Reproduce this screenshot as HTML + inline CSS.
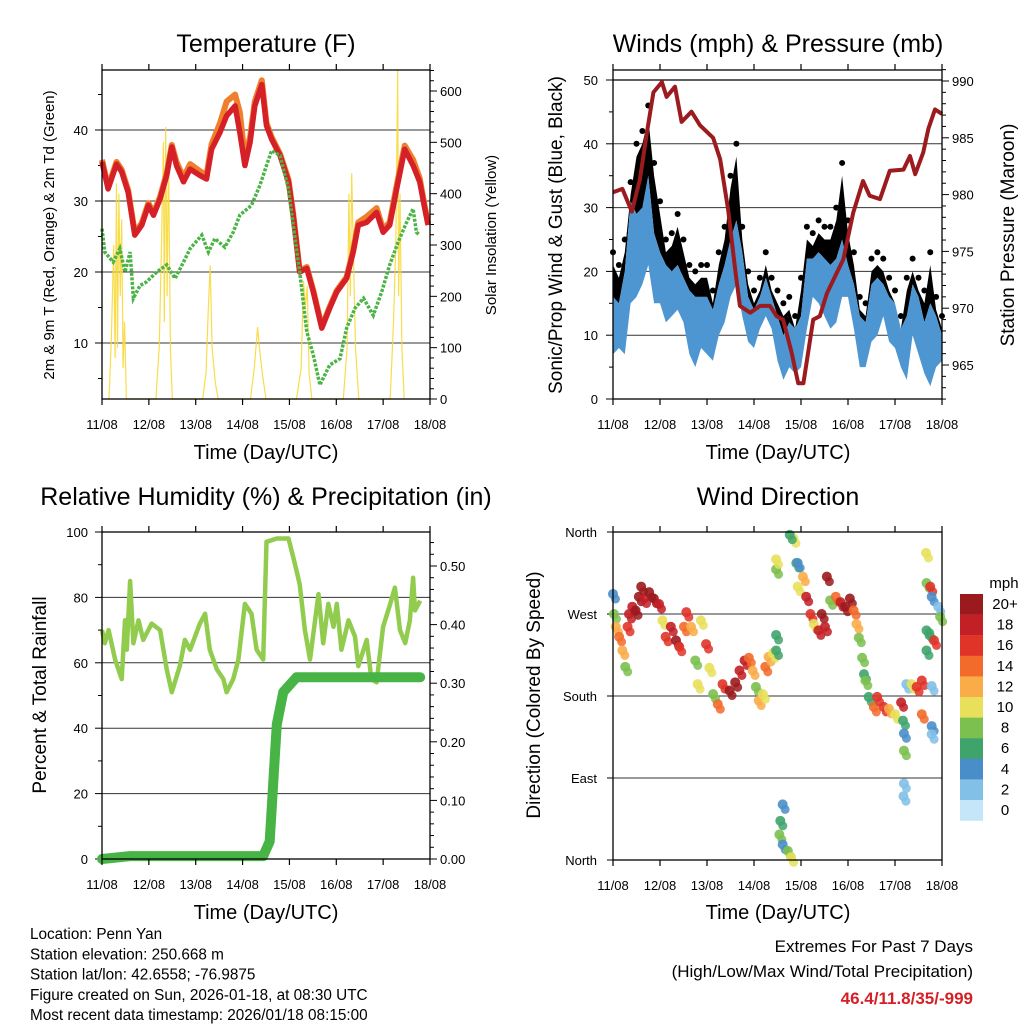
<!DOCTYPE html>
<html><head><meta charset="utf-8"><style>
body{margin:0;background:#fff}
svg{display:block;font-family:"Liberation Sans",sans-serif}
</style></head><body>
<svg id="s" width="1024" height="1024" viewBox="0 0 1024 1024" xmlns="http://www.w3.org/2000/svg">
<rect width="1024" height="1024" fill="#fff"/>
</svg>
<script>
// ---------- DATA ----------
const dayLabels = ["11/08","12/08","13/08","14/08","15/08","16/08","17/08","18/08"];
// Temperature (F)
const tempT = [0,0.13,0.31,0.42,0.56,0.70,0.85,0.99,1.10,1.24,1.38,1.49,1.59,1.74,1.88,2.09,2.23,2.34,2.52,2.66,2.84,2.94,3.05,3.16,3.26,3.41,3.51,3.62,3.80,3.98,4.08,4.22,4.37,4.51,4.69,4.86,5.01,5.22,5.36,5.47,5.65,5.86,6.00,6.14,6.29,6.46,6.64,6.78,6.89,6.96];
const temp2m = [35.5,31.7,35.2,34.1,31.2,25.2,26.6,29.4,28.0,30.3,33.6,37.6,35.0,32.7,34.5,33.6,33.1,37.3,39.7,42.0,43.4,39.7,35.0,38.3,43.4,46.4,40.6,38.7,36.4,32.7,28.0,20.0,20.5,17.2,12.1,14.9,17.2,19.1,22.8,26.6,27.0,28.4,25.6,26.6,31.7,37.3,35.0,32.7,28.9,26.6];
const temp9m = [35.8,32.0,35.5,34.4,31.5,25.5,26.9,29.7,28.3,30.6,33.9,37.9,35.5,33.3,35.2,34.2,33.6,38.0,41.0,44.0,45.0,42.5,36.0,39.0,44.0,47.0,41.0,39.0,36.6,33.0,28.2,20.2,20.7,17.4,12.3,15.1,17.4,19.3,23.0,27.0,27.8,29.0,26.0,27.0,32.2,37.8,35.8,33.2,29.2,26.8];
const dewT = [0,0.06,0.24,0.38,0.49,0.60,0.67,0.81,0.95,1.17,1.38,1.56,1.74,1.88,2.13,2.27,2.41,2.62,2.80,2.94,3.19,3.37,3.51,3.62,3.80,3.98,4.08,4.22,4.37,4.51,4.65,4.86,5.08,5.22,5.40,5.58,5.79,5.97,6.14,6.32,6.50,6.64,6.71,6.78];
const dew2m = [26.1,22.8,21.4,23.3,20.0,22.8,16.3,18.1,18.6,20.0,21.0,19.1,21.4,23.3,25.2,22.8,24.7,23.5,25.6,28.0,29.4,32.2,35.0,37.1,36.4,31.7,26.6,20.0,11.6,8.3,4.1,6.9,7.8,12.1,14.9,16.3,13.9,17.2,21.0,24.2,27.0,28.9,25.6,25.2];
const solarT = [0.15,0.2,0.25,0.28,0.31,0.33,0.36,0.39,0.42,0.45,0.48,0.52, 1.15,1.22,1.27,1.31,1.33,1.36,1.39,1.42,1.46,1.5, 2.15,2.22,2.27,2.31,2.35,2.42,2.48, 3.17,3.25,3.32,3.36,3.42,3.5, 4.15,4.25,4.3,4.34,4.38,4.42,4.48, 5.15,5.23,5.27,5.3,5.33,5.36,5.41,5.48, 6.15,6.22,6.27,6.31,6.33,6.36,6.4,6.45];
const solarV = [0,120,300,80,420,100,400,200,350,60,150,0, 0,100,300,500,150,530,200,480,100,0, 0,50,180,260,100,30,0, 0,60,140,100,50,0, 0,60,230,180,220,50,0, 0,100,400,200,440,300,100,0, 0,150,300,640,200,400,100,0];
// Winds (mph) & pressure (mb), 3-hourly
const windT = [0,0.125,0.25,0.375,0.5,0.625,0.75,0.875,1,1.125,1.25,1.375,1.5,1.625,1.75,1.875,2,2.125,2.25,2.375,2.5,2.625,2.75,2.875,3,3.125,3.25,3.375,3.5,3.625,3.75,3.875,4,4.125,4.25,4.375,4.5,4.625,4.75,4.875,5,5.125,5.25,5.375,5.5,5.625,5.75,5.875,6,6.125,6.25,6.375,6.5,6.625,6.75,6.875,7];
const windLo = [7,8,7,15,16,18,21,15,15,12,13,14,12,7,5,8,7,6,10,12,16,18,13,9,8,11,13,11,6,3,5,4,5,11,16,15,13,11,12,16,16,11,5,5,9,10,13,9,8,5,3,10,7,4,2,5,6];
const windHi = [16,15,20,31,29,30,35,26,23,21,20,21,19,17,16,16,16,14,18,21,25,28,23,16,14,16,19,16,13,10,12,11,13,22,22,23,22,21,22,25,21,18,13,12,18,19,18,16,15,11,13,18,16,12,15,13,10];
const gust = [23,21,25,34,40,42,46,37,31,25,26,29,25,21,20,21,21,17,23,27,35,40,27,20,17,19,23,19,17,15,16,13,19,27,26,28,27,27,30,37,28,23,16,15,22,23,22,19,17,13,19,22,19,17,23,16,13];
const presT = [0,0.2,0.4,0.57,0.72,0.86,1.04,1.14,1.32,1.46,1.67,1.85,2.13,2.28,2.45,2.6,2.7,2.92,3.13,3.34,3.48,3.62,3.8,3.94,4.05,4.16,4.26,4.4,4.55,4.76,4.9,5.11,5.32,5.46,5.68,5.89,6.18,6.32,6.43,6.6,6.71,6.85,7.0];
const presV = [980.2,980.5,978.5,981.3,985.4,989.0,989.9,988.6,989.5,986.4,987.3,986.1,985.0,983.1,978.7,973.4,970.2,969.6,970.2,970.2,969.3,969.0,966.1,963.4,963.4,966.3,969.0,969.3,971.3,973.1,974.3,978.4,981.2,979.9,979.6,982.1,982.2,983.4,981.8,983.7,985.8,987.5,987.1];
// RH (%) & precipitation (in)
const rhT = [0,0.06,0.14,0.28,0.42,0.49,0.53,0.6,0.67,0.78,0.88,1.06,1.24,1.38,1.49,1.66,1.77,1.88,2.09,2.2,2.3,2.45,2.59,2.66,2.8,2.91,3.05,3.19,3.3,3.44,3.51,3.73,3.98,4.12,4.22,4.33,4.44,4.62,4.72,4.83,4.94,5.01,5.11,5.26,5.4,5.47,5.65,5.75,5.86,6.0,6.15,6.25,6.36,6.47,6.57,6.64,6.68,6.79];
const rhV = [70,66,70,61,55,73,64,85,66,73,67,72,70,58,51,59,67,64,72,75,64,58,55,51,55,61,78,75,64,61,97,98,98,90,84,70,61,81,66,78,71,78,64,73,68,59,67,55,54,71,78,83,70,66,73,86,76,79];
const prT = [0,0.6,3.44,3.58,3.73,3.87,4.15,6.79];
const prV = [0,0.005,0.005,0.03,0.23,0.285,0.31,0.31];
// Wind direction (deg) colored by speed (mph)
const dirT = [0,0.02,0.06,0.13,0.2,0.26,0.31,0.34,0.41,0.48,0.55,0.6,0.66,0.77,0.87,0.98,1.05,1.12,1.23,1.34,1.41,1.51,1.56,1.66,1.75,1.8,1.87,1.98,2.05,2.13,2.23,2.33,2.48,2.6,2.69,2.8,2.89,2.97,3.04,3.1,3.19,3.24,3.31,3.4,3.47,3.47,3.47,3.47,3.61,3.56,3.54,3.61,3.72,3.79,3.84,3.76,3.9,3.93,3.93,4.04,4.11,4.2,4.27,4.37,4.44,4.51,4.55,4.62,4.74,4.84,4.94,5.04,5.12,5.18,5.23,5.3,5.34,5.37,5.44,5.55,5.62,5.76,5.87,6.0,6.13,6.17,6.19,6.19,6.19,6.18,6.24,6.35,6.46,6.57,6.57,6.66,6.67,6.67,6.73,6.75,6.78,6.83,6.78,6.78,6.78,6.92,6.96,6.67];
const dirV = [292,270,256,245,230,212,256,270,278,274,289,300,287,294,287,281,263,245,256,241,234,256,272,256,219,193,263,237,211,182,171,193,186,195,208,219,222,208,190,175,182,212,223,227,230,247,319,330,61,43,28,17,10,3,353,357,326,300,326,311,289,270,259,252,270,256,311,285,289,283,278,287,274,259,244,222,204,197,179,168,179,168,166,160,173,153,139,120,84,70,193,193,190,197,160,337,304,252,249,300,289,241,147,138,191,278,267,230];
const dirS = [5,8,12,14,12,8,16,18,18,20,20,20,18,20,20,18,10,16,18,20,16,14,16,12,8,10,10,16,10,8,14,16,20,20,18,18,14,12,8,12,10,14,12,10,6,6,8,10,4,6,8,4,8,10,10,6,6,10,4,12,18,16,10,18,20,18,20,8,14,18,20,20,14,12,8,8,6,8,6,14,16,16,12,10,18,6,4,8,2,2,2,10,16,16,14,10,8,6,6,16,4,16,4,2,2,2,8,6,4];
const barLabels = ["20+","18","16","14","12","10","8","6","4","2","0"];
const barColors = ["#9b1a1d","#c21f26","#e03429","#f26b2a","#f9ac48","#e8e05a","#7cc04f","#3fa46c","#4a8ec9","#82c0e8","#c4e6f8"];

// ---------- HELPERS ----------
const NS="http://www.w3.org/2000/svg";
const svg=document.getElementById('s');
function mk(tag,attrs,parent){const e=document.createElementNS(NS,tag);for(const k in attrs)e.setAttribute(k,attrs[k]);(parent||svg).appendChild(e);return e;}
function txt(str,x,y,size,anchor,parent,extra){const e=mk('text',Object.assign({x:x,y:y,'font-size':size,'text-anchor':anchor||'middle',fill:'#000'},extra||{}),parent);e.textContent=str;return e;}
function lin(a,b,c,d){return (v)=>c+(v-a)*(d-c)/(b-a);}
function pathOf(ts,vs,X,Y){return ts.map((t,i)=>(i?'L':'M')+X(t).toFixed(1)+','+Y(vs[i]).toFixed(1)).join('');}

function frame(g,x0,y0,x1,y1,name){
  const r=mk('rect',{x:x0,y:y0,width:x1-x0,height:y1-y0,fill:'none',stroke:'#000','stroke-width':1.3},g);
  
  
}
function xAxis(g,x0,x1,y0,y1,X){
  dayLabels.forEach((l,i)=>{
    const x=X(i);
    mk('line',{x1:x,x2:x,y1:y1,y2:y1+6,stroke:'#000','stroke-width':1.2},g);
    mk('line',{x1:x,x2:x,y1:y0,y2:y0-6,stroke:'#000','stroke-width':1.2},g);
    const t=txt(l,x,y1+30,13,'middle',g);
    
    
  });
}
function yTicks(g,side,x,lo,hi,major,minor,Y,fmt,lblX,grid,gx0,gx1){
  const dir=side==='left'?-1:1;
  for(let v=Math.ceil(lo/minor)*minor;v<=hi+1e-9;v+=minor){
    const y=Y(v);const isMaj=Math.abs(v/major-Math.round(v/major))<1e-6;
    mk('line',{x1:x,x2:x+dir*(isMaj?7:4),y1:y,y2:y,stroke:'#000','stroke-width':1},g);
    if(isMaj){
      if(grid&&y>Y(hi)+1&&y<Y(lo)-1) mk('line',{x1:gx0,x2:gx1,y1:y,y2:y,stroke:'#333','stroke-width':1},g);
      if(fmt){const t=txt(fmt(v),lblX,y+5,13,side==='left'?'end':'start',g);
        
        }
    }
  }
}
function title(str,x,y,name){const t=txt(str,x,y,25,'middle');}
function vtitle(str,x,y,size,name){const t=txt(str,x,y,size,'middle',null,{transform:'rotate(-90 '+x+' '+y+')'});}

// ---------- PANEL 1: Temperature ----------
(function(){
  const x0=102,x1=430,y0=70,y1=399;
  const g=mk('g',{});
  
  
  const X=lin(0,7,x0,x1), Y=lin(10,40,343,130), YS=lin(0,600,399,91);
  yTicks(g,'left',x0,2.1,48.4,10,5,Y,v=>v>=10?String(v):null,88,true,x0,x1);
  yTicks(g,'right',x1,0,641,100,20,YS,v=>String(v),440,false);
  const sol=mk('path',{d:pathOf(solarT,solarV,X,YS),fill:'none',stroke:'#f8d838','stroke-width':1.2,'stroke-opacity':0.9},g);
  
  
  const o=mk('path',{d:pathOf(tempT,temp9m,X,Y),fill:'none',stroke:'#f07f2c','stroke-width':6,'stroke-linejoin':'round'},g);
  
  
  const r=mk('path',{d:pathOf(tempT,temp2m,X,Y),fill:'none',stroke:'#d42026','stroke-width':5.5,'stroke-linejoin':'round'},g);
  
  
  const dp=mk('path',{d:pathOf(dewT,dew2m,X,Y),fill:'none',stroke:'#4bb446','stroke-width':3.5,'stroke-dasharray':'3 1.5'},g);
  
  
  frame(g,x0,y0,x1,y1,'temperature');
  xAxis(g,x0,x1,y0,y1,X);
  title('Temperature (F)',266,52,'temperature-title');
  vtitle('2m & 9m T (Red, Orange) & 2m Td (Green)',54,235,15,'temperature-y-title');
  vtitle('Solar Insolation (Yellow)',496,235,15,'solar-y-title');
  const xt=txt('Time (Day/UTC)',266,459,20,'middle');
})();

// ---------- PANEL 2: Winds & Pressure ----------
(function(){
  const x0=613,x1=942,y0=70,y1=399;
  const g=mk('g',{});
  
  
  const X=lin(0,7,x0,x1), Y=lin(0,50,399,80), YP=lin(965,990,365,81);
  yTicks(g,'left',x0,0,51.6,10,5,Y,v=>String(v),598,true,x0,x1);
  mk('line',{x1:x0,x2:x1,y1:Y(50),y2:Y(50),stroke:'#000','stroke-width':1.2},g);
  yTicks(g,'right',x1,962,991,5,1,YP,v=>String(v),952,false);
  let gp='M'+windT.map((t,i)=>X(t).toFixed(1)+','+Y(windHi[i]).toFixed(1)).join('L');
  for(let i=windT.length-1;i>=0;i--) gp+='L'+X(windT[i]).toFixed(1)+','+Y(gust[i]-2).toFixed(1);
  const gc=mk('path',{d:gp+'Z',fill:'#000'},g);
  
  
  windT.forEach((t,i)=>{
    const c=mk('circle',{cx:X(t),cy:Y(gust[i]),r:3,fill:'#000'},g);
    
    
  });
  let bp='M'+windT.map((t,i)=>X(t).toFixed(1)+','+Y(windHi[i]).toFixed(1)).join('L');
  for(let i=windT.length-1;i>=0;i--) bp+='L'+X(windT[i]).toFixed(1)+','+Y(windLo[i]).toFixed(1);
  const bb=mk('path',{d:bp+'Z',fill:'#4e96d2'},g);
  
  
  const p=mk('path',{d:pathOf(presT,presV,X,YP),fill:'none',stroke:'#9b1b1e','stroke-width':4,'stroke-linejoin':'round'},g);
  
  
  frame(g,x0,y0,x1,y1,'winds');
  xAxis(g,x0,x1,y0,y1,X);
  title('Winds (mph) & Pressure (mb)',778,52,'winds-title');
  vtitle('Sonic/Prop Wind & Gust (Blue, Black)',562,235,19,'wind-y-title');
  vtitle('Station Pressure (Maroon)',1014,235,19,'pressure-y-title');
  const xt=txt('Time (Day/UTC)',778,459,20,'middle');
})();

// ---------- PANEL 3: RH & Precip ----------
(function(){
  const x0=102,x1=430,y0=532,y1=859;
  const g=mk('g',{});
  
  
  const X=lin(0,7,x0,x1), Y=lin(0,100,859,532), YP=lin(0,0.5,859,566);
  yTicks(g,'left',x0,0,100,20,10,Y,v=>String(v),88,true,x0,x1);
  yTicks(g,'right',x1,0,0.558,0.1,0.02,YP,v=>v.toFixed(2),440,false);
  const rh=mk('path',{d:pathOf(rhT,rhV,X,Y),fill:'none',stroke:'#92cc4e','stroke-width':4.5,'stroke-linejoin':'round'},g);
  
  
  const pr=mk('path',{d:pathOf(prT,prV,X,YP),fill:'none',stroke:'#48b446','stroke-width':10,'stroke-linejoin':'round','stroke-linecap':'round'},g);
  
  
  frame(g,x0,y0,x1,y1,'humidity');
  xAxis(g,x0,x1,y0,y1,X);
  title('Relative Humidity (%) & Precipitation (in)',266,505,'humidity-title');
  vtitle('Percent & Total Rainfall',46,695,19,'humidity-y-title');
  const xt=txt('Time (Day/UTC)',266,919,20,'middle');
})();

// ---------- PANEL 4: Wind direction ----------
(function(){
  const x0=613,x1=942,y0=532,y1=860;
  const g=mk('g',{});
  
  
  const X=lin(0,7,x0,x1), Y=lin(0,360,860,532);
  const names=["North","East","South","West","North"];
  names.forEach((n,i)=>{
    const y=Y(i*90);
    if(i>0&&i<4) mk('line',{x1:x0,x2:x1,y1:y,y2:y,stroke:'#333','stroke-width':1},g);
    mk('line',{x1:x0,x2:x0-6,y1:y,y2:y,stroke:'#000'},g);
    const t=txt(n,597,y+5,13,'end',g);
    
    
  });
  function col(s){const k=Math.min(10,Math.floor(s/2));return barColors[10-k];}
  dirT.forEach((t,i)=>{
    const c=mk('circle',{cx:X(t),cy:Y(dirV[i]),r:5,fill:col(dirS[i]),'fill-opacity':0.9},g);
    
    
    const c2=mk('circle',{cx:X(t)+2.5,cy:Y(dirV[i])+5,r:4.5,fill:col(dirS[i]),'fill-opacity':0.85},g);
    
    
  });
  frame(g,x0,y0,x1,y1,'wind-direction');
  xAxis(g,x0,x1,y0,y1,X);
  title('Wind Direction',778,505,'wind-direction-title');
  vtitle('Direction (Colored By Speed)',540,695,19,'direction-y-title');
  const xt=txt('Time (Day/UTC)',778,919,20,'middle');
  const cb=mk('g',{});
  
  
  const u=txt('mph',1004,588,15,'middle',cb);
  barLabels.forEach((l,i)=>{
    const r=mk('rect',{x:960,y:594+i*20.6,width:23,height:20.8,fill:barColors[i]},cb);
    
    
    const t=txt(l,1005,609+i*20.6,15,'middle',cb);
    
    
  });
})();

// ---------- FOOTER ----------
["Location: Penn Yan","Station elevation: 250.668 m","Station lat/lon: 42.6558; -76.9875","Figure created on Sun, 2026-01-18, at 08:30 UTC","Most recent data timestamp: 2026/01/18 08:15:00"].forEach((s,i)=>{
  const t=txt(s,30,939+i*20.3,15.3,'start');
  
  
});
const e1=txt('Extremes For Past 7 Days',973,952,17,'end');
const e2=txt('(High/Low/Max Wind/Total Precipitation)',973,977,17,'end');
const e3=txt('46.4/11.8/35/-999',973,1004,17,'end',null,{fill:'#d42026','font-weight':'bold'});
</script>
</body></html>
